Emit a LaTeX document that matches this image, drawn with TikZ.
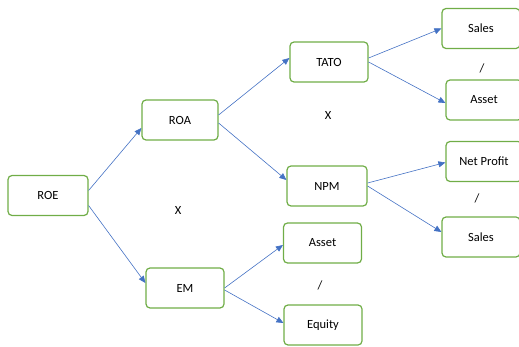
\documentclass[tikz,border=0pt]{standalone}
\usepackage{fontspec}
\setmainfont{Carlito}
\usetikzlibrary{arrows.meta}
\definecolor{boxgreen}{RGB}{112,173,71}
\definecolor{arrblue}{RGB}{68,114,196}
\begin{document}
\begin{tikzpicture}[x=1pt,y=-1pt,
  box/.style={draw=boxgreen,line width=1.2pt,rounded corners=4pt,minimum width=#1,minimum height=40pt,inner sep=0pt,font=\fontsize{12.5}{14}\selectfont},
  box/.default=78pt,
  arr/.style={draw=arrblue,line width=0.6pt,-{Triangle[length=7pt,width=6pt]}},
  lbl/.style={font=\fontsize{12.5}{14}\selectfont}]
\useasboundingbox (0,0) rectangle (519,347);
\node[box=80pt] (roe) at (48,195.5) {ROE};
\node[box=76pt] (roa) at (180,120) {ROA};
\node[box=78pt] (tato) at (329,62) {TATO};
\node[box=80pt] (npm) at (327,186) {NPM};
\node[box=78pt] (em) at (185,288) {EM};
\node[box=78pt] (asset2) at (322.5,243) {Asset};
\node[box=78pt] (equity) at (323,325) {Equity};
\node[box=78pt] (sales1) at (481,28.5) {Sales};
\node[box=76pt] (asset1) at (484,100) {Asset};
\node[box=76pt] (netprofit) at (484,161.5) {Net Profit};
\node[box=78pt] (sales2) at (481,237) {Sales};
\node[lbl] (x1) at (178,210) {X};
\node[lbl] (x2) at (328,115) {X};
\node[lbl] (d1) at (482,68) {/};
\node[lbl] (d2) at (477,198) {/};
\node[lbl] (d3) at (320,285) {/};
\draw[arr] ([yshift=5pt]roe.east) -- ([yshift=-8pt]roa.west);
\draw[arr] ([yshift=-10pt]roe.east) -- ([yshift=5pt]em.west);
\draw[arr] ([yshift=5pt]roa.east) -- ([yshift=4pt]tato.west);
\draw[arr] ([yshift=-3pt]roa.east) -- ([yshift=6pt]npm.west);
\draw[arr] ([yshift=4pt]tato.east) -- ([yshift=0pt]sales1.west);
\draw[arr] ([yshift=0pt]tato.east) -- ([yshift=-3pt]asset1.west);
\draw[arr] ([yshift=3pt]npm.east) -- ([yshift=-1pt]netprofit.west);
\draw[arr] ([yshift=0pt]npm.east) -- ([yshift=5pt]sales2.west);
\draw[arr] ([yshift=0pt]em.east) -- ([yshift=-2pt]asset2.west);
\draw[arr] ([yshift=-2pt]em.east) -- ([yshift=2pt]equity.west);
\end{tikzpicture}
\end{document}
